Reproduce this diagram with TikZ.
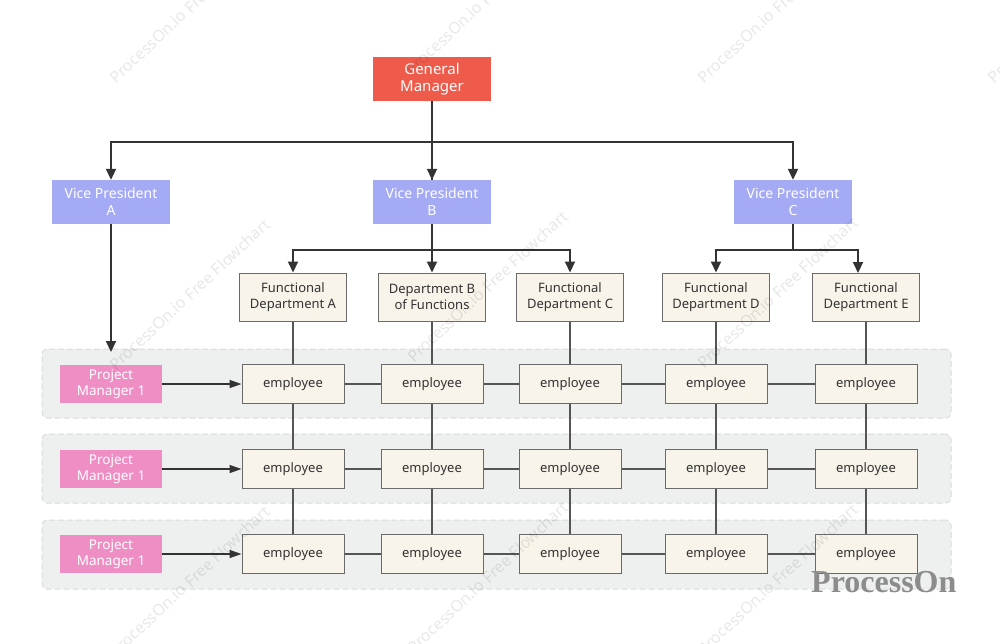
\documentclass[tikz,border=0pt]{standalone}
\usepackage{fontspec}
\setmainfont{Noto Sans}
\newfontfamily\logofont{Liberation Serif}
\usetikzlibrary{arrows.meta}
\definecolor{gmred}{HTML}{EF5B4B}
\definecolor{vpblue}{HTML}{A4AAF4}
\definecolor{pmpink}{HTML}{EE8EC4}
\definecolor{cream}{HTML}{F8F4E9}
\definecolor{boxline}{HTML}{6A6A6A}
\definecolor{bandfill}{HTML}{EDF0EF}
\definecolor{bandline}{HTML}{D8DCDB}
\definecolor{txt}{HTML}{333333}
\definecolor{conn}{HTML}{333333}
\definecolor{thin}{HTML}{555555}
\begin{document}
\begin{tikzpicture}[x=1pt,y=-1pt,
  gmbox/.style={rectangle,fill=gmred,minimum width=118pt,minimum height=44pt,inner sep=0pt,
    text=white,align=center,font=\fontsize{15}{17.5}\selectfont},
  vpbox/.style={rectangle,fill=vpblue,minimum width=118pt,minimum height=44pt,inner sep=0pt,
    text=white,align=center,font=\fontsize{14}{16.7}\selectfont},
  deptbox/.style={rectangle,fill=cream,draw=boxline,line width=1pt,minimum width=107pt,minimum height=48pt,
    inner sep=0pt,text=txt,align=center,font=\fontsize{13}{15.5}\selectfont},
  empbox/.style={rectangle,fill=cream,draw=boxline,line width=1pt,minimum width=102pt,minimum height=39pt,
    inner sep=0pt,text=txt,align=center,font=\fontsize{13}{15.5}\selectfont},
  pmbox/.style={rectangle,fill=pmpink,minimum width=102pt,minimum height=38pt,inner sep=0pt,
    text=white,align=center,font=\fontsize{13.5}{16.5}\selectfont},
  bandbox/.style={rectangle,fill=bandfill,draw=bandline,dashed,dash pattern=on 6pt off 3pt,line width=1pt,
    rounded corners=5pt,minimum width=909pt,minimum height=69pt,inner sep=0pt},
  bigarrow/.style={draw=conn,line width=2pt,-{Triangle[length=11pt,width=10pt]}},
  bigline/.style={draw=conn,line width=2pt},
  pmarrow/.style={draw=conn,line width=1.4pt,-{Triangle[length=12pt,width=8pt]}},
  thinline/.style={draw=thin,line width=1.2pt},
  wmark/.style={text=black,opacity=0.09,font=\fontsize{16}{18}\selectfont,rotate=43,anchor=west,inner sep=0pt},
]
\useasboundingbox (0,0) rectangle (1000,643);
\fill[white] (0,0) rectangle (1000,643);

% bands
\node[bandbox] (band1) at (496.5,383.5) {};
\node[bandbox] (band2) at (496.5,468.5) {};
\node[bandbox] (band3) at (496.5,554.5) {};

% top
\node[gmbox] (gm) at (432,79) {General\\Manager};
\node[vpbox] (vpA) at (111,202) {Vice President\\A};
\node[vpbox] (vpB) at (432,202) {Vice President\\B};
\node[vpbox] (vpC) at (793,202) {Vice President\\C};

% departments
\node[deptbox] (dA) at (293,297) {Functional\\Department A};
\node[deptbox] (dB) at (432,297) {Department B\\of Functions};
\node[deptbox] (dC) at (570,297) {Functional\\Department C};
\node[deptbox] (dD) at (716,297) {Functional\\Department D};
\node[deptbox] (dE) at (866,297) {Functional\\Department E};

% project managers
\node[pmbox] (pm1) at (111,384) {Project\\Manager 1};
\node[pmbox] (pm2) at (111,469) {Project\\Manager 1};
\node[pmbox] (pm3) at (111,554) {Project\\Manager 1};

% employees
\foreach \r/\y in {1/384,2/469,3/554}{
  \node[empbox] (eA\r) at (293,\y) {employee};
  \node[empbox] (eB\r) at (432,\y) {employee};
  \node[empbox] (eC\r) at (570,\y) {employee};
  \node[empbox] (eD\r) at (716,\y) {employee};
  \node[empbox] (eE\r) at (866,\y) {employee};
}

% GM to VPs
\coordinate (gmj) at (432,142);
\path[bigline] (gm.south) -- (vpB.north);
\path[bigarrow] (gmj) -| (vpA.north);
\path[bigarrow] (gmj) -| (vpC.north);
\path[bigarrow] (gm.south) -- (vpB.north);

% VP B to departments
\coordinate (bj) at (432,250);
\path[bigline] (vpB.south) -- (bj);
\path[bigarrow] (bj) -| (dA.north);
\path[bigarrow] (bj) -| (dC.north);
\path[bigarrow] (vpB.south) -- (dB.north);

% VP C to departments
\coordinate (cj) at (793,250);
\coordinate (eTop) at (858,273);
\path[bigline] (vpC.south) -- (cj);
\path[bigarrow] (cj) -| (dD.north);
\path[bigarrow] (cj) -| (eTop);

% VP A to project managers
\coordinate (aEnd) at (111,352);
\path[bigarrow] (vpA.south) -- (aEnd);

% vertical thin lines
\foreach \c in {A,B,C,D,E}{
  \path[thinline] (d\c.south) -- (e\c1.north);
  \path[thinline] (e\c1.south) -- (e\c2.north);
  \path[thinline] (e\c2.south) -- (e\c3.north);
}
% horizontal thin lines and PM arrows
\foreach \r in {1,2,3}{
  \path[thinline] (eA\r.east) -- (eB\r.west);
  \path[thinline] (eB\r.east) -- (eC\r.west);
  \path[thinline] (eC\r.east) -- (eD\r.west);
  \path[thinline] (eD\r.east) -- (eE\r.west);
  \path[pmarrow] (pm\r.east) -- (eA\r.west);
}

% watermarks
\foreach \x/\y in {112/80,408/72,700/80,990/80,112/367,410/359,700/365,112/654,410/650,700/652}{
  \node[wmark] at (\x,\y) {ProcessOn.io Free Flowchart};
}

% logo
\node[text=black!45,font=\logofont\bfseries\fontsize{32}{34}\selectfont,inner sep=0pt,anchor=west] (logo) at (811,582) {ProcessOn};
\end{tikzpicture}
\end{document}
